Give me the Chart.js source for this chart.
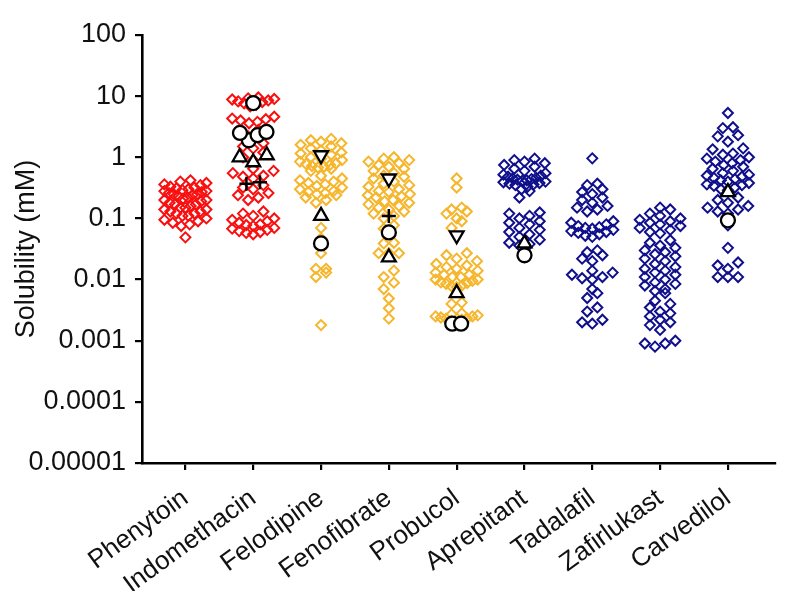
<!DOCTYPE html>
<html>
<head>
<meta charset="utf-8">
<script src="https://cdn.jsdelivr.net/npm/chart.js@4.4.0/dist/chart.umd.min.js"></script>
<style>
  html, body { margin: 0; padding: 0; background: #fff; }
  #wrap { width: 785px; height: 591px; }
</style>
</head>
<body>
<div id="wrap"><canvas id="solubilityChart"></canvas></div>
<script>
const drugs = ['Phenytoin', 'Indomethacin', 'Felodipine', 'Fenofibrate', 'Probucol',
    'Aprepitant', 'Tadalafil', 'Zafirlukast', 'Carvedilol'];

// solubility values (mM)
const phenytoin = [0.42, 0.40, 0.38, 0.36, 0.35, 0.33, 0.32, 0.31, 0.30, 0.29, 0.28, 0.28, 0.27, 0.26,
    0.25, 0.25, 0.24, 0.23, 0.22, 0.21, 0.20, 0.20, 0.19, 0.18, 0.17, 0.17, 0.16, 0.15, 0.15, 0.14,
    0.14, 0.13, 0.13, 0.12, 0.12, 0.11, 0.11, 0.10, 0.095, 0.09, 0.085, 0.08, 0.075, 0.049];
const indomethacin = [9.5, 9.2, 9.0, 8.8, 8.5, 8.2, 8.0, 7.6, 7.2, 6.8,
    4.6, 4.3, 4.2, 4.0, 3.8, 3.6, 2.8, 2.2, 1.7, 1.5, 1.4, 1.2, 1.0, 0.9,
    0.65, 0.6, 0.55, 0.5, 0.48, 0.45, 0.35, 0.32, 0.3, 0.26, 0.24, 0.22, 0.2,
    0.13, 0.12, 0.11, 0.1, 0.095, 0.09, 0.085, 0.08, 0.078, 0.075, 0.07, 0.068, 0.065, 0.062,
    0.06, 0.058, 0.055];
const felodipine = [2.0, 1.9, 1.8, 1.7, 1.6, 1.5, 1.4, 1.3, 1.2, 1.15, 1.1, 1.0, 0.95, 0.9, 0.85,
    0.8, 0.78, 0.75, 0.72, 0.7, 0.68, 0.65, 0.6,
    0.5, 0.45, 0.42, 0.4, 0.38, 0.36, 0.34, 0.32, 0.3, 0.28, 0.27, 0.26, 0.25, 0.24, 0.22, 0.2, 0.18,
    0.07, 0.047, 0.027, 0.015, 0.015, 0.013, 0.011, 0.0018];
const fenofibrate = [1.0, 0.95, 0.9, 0.85, 0.8, 0.75, 0.7, 0.65, 0.6, 0.55, 0.5, 0.48, 0.45,
    0.4, 0.37, 0.35, 0.33, 0.3, 0.28, 0.27, 0.25, 0.24, 0.23, 0.22, 0.2, 0.19, 0.18, 0.17, 0.16,
    0.15, 0.14, 0.13, 0.12, 0.11, 0.1,
    0.077, 0.068, 0.04, 0.039, 0.027, 0.027, 0.027, 0.014, 0.011, 0.0089, 0.007, 0.0049, 0.0034, 0.0023];
const probucol = [0.45, 0.32, 0.15, 0.14, 0.13, 0.12, 0.1, 0.09, 0.07,
    0.027, 0.025, 0.022, 0.02, 0.018, 0.017, 0.016, 0.015, 0.014, 0.013, 0.012, 0.012, 0.011,
    0.011, 0.01, 0.01, 0.0095, 0.009, 0.0088, 0.0085, 0.008, 0.0078, 0.0075,
    0.0042, 0.004, 0.0028, 0.0027, 0.0026, 0.0025, 0.0025, 0.0024, 0.0023, 0.0023, 0.0022, 0.0021, 0.002];
const aprepitant = [0.95, 0.9, 0.85, 0.8, 0.75, 0.7, 0.65, 0.6, 0.55, 0.52, 0.5, 0.48, 0.46, 0.45,
    0.44, 0.43, 0.42, 0.41, 0.4, 0.39, 0.38, 0.37, 0.36, 0.35, 0.33, 0.3, 0.28, 0.22,
    0.125, 0.12, 0.11, 0.1, 0.09, 0.085, 0.08, 0.07, 0.065, 0.06, 0.055, 0.05, 0.045, 0.04, 0.038, 0.036];
const tadalafil = [0.96, 0.37, 0.27, 0.35, 0.3, 0.25, 0.22, 0.2, 0.18, 0.16, 0.15, 0.14, 0.13,
    0.09, 0.085, 0.08, 0.075, 0.072, 0.07, 0.068, 0.065, 0.062, 0.06, 0.058, 0.055, 0.052, 0.05,
    0.03, 0.028, 0.025, 0.022, 0.02, 0.014, 0.013, 0.012, 0.011, 0.0105, 0.01,
    0.007, 0.006, 0.005, 0.0035, 0.003, 0.0022, 0.002, 0.0019];
const zafirlukast = [0.15, 0.14, 0.12, 0.11, 0.1, 0.095, 0.09, 0.085, 0.08, 0.075, 0.07, 0.065, 0.06, 0.057,
    0.044, 0.04, 0.036, 0.033, 0.03, 0.028, 0.026, 0.024, 0.022, 0.02, 0.018, 0.016,
    0.015, 0.014, 0.013, 0.012, 0.011, 0.01, 0.009, 0.0085, 0.008, 0.007, 0.0065, 0.006,
    0.0045, 0.004, 0.0035, 0.003, 0.0028, 0.0025, 0.0022, 0.002, 0.0018, 0.0015,
    0.001, 0.0009, 0.0009, 0.0008];
const carvedilol = [5.3, 3.1, 3.0, 2.3, 2.2, 1.8, 1.4, 1.35,
    1.15, 1.1, 1.0, 0.95, 0.9, 0.85, 0.8, 0.75, 0.7, 0.65, 0.6, 0.55, 0.52, 0.5, 0.48, 0.46,
    0.44, 0.42, 0.4, 0.38, 0.36, 0.35, 0.34, 0.32, 0.3, 0.29,
    0.22, 0.2, 0.18, 0.16, 0.15, 0.14, 0.13, 0.12,
    0.077, 0.033, 0.019, 0.017, 0.015, 0.011, 0.011, 0.011];

// black reference markers, one list per drug
const circleMarks = [[], [7.7, 2.6, 2.5, 2.3, 1.9], [0.039], [0.059], [0.0019, 0.0019], [0.025], [], [], [0.093]];
const triangleMarks = [[], [1.08, 1.0, 0.83], [0.11], [0.023], [0.006], [0.039], [], [], [0.27]];
const invTriangleMarks = [[], [], [1.08], [0.45], [0.053], [], [], [], []];
const plusMarks = [[], [0.39, 0.37], [], [0.11], [], [], [], [], []];

const yTickValues = [0.00001, 0.0001, 0.001, 0.01, 0.1, 1, 10, 100];
const yTickLabels = ['0.00001', '0.0001', '0.001', '0.01', '0.1', '1', '10', '100'];

const groupColors = ['#f81010', '#f81010', '#f6b62c', '#f6b62c', '#f6b62c',
    '#10108c', '#10108c', '#10108c', '#10108c'];
const allValues = [phenytoin, indomethacin, felodipine, fenofibrate, probucol,
    aprepitant, tadalafil, zafirlukast, carvedilol];

// spread points that share a value band sideways, lowest in the middle;
// rows keep an even spacing but never get wider than maxWidth
function swarm(values, cat, binLog, step, maxWidth) {
    const sorted = values.slice().sort((a, b) => a - b);
    const pts = [];
    let i = 0;
    while (i < sorted.length) {
        const start = Math.log10(sorted[i]);
        const bin = [];
        while (i < sorted.length && Math.log10(sorted[i]) - start < binLog) bin.push(sorted[i++]);
        const n = bin.length;
        const gap = n > 1 ? Math.min(step, maxWidth / (n - 1)) : 0;
        const slots = bin.map((v, k) => k - (n - 1) / 2);
        slots.sort((a, b) => Math.abs(a) - Math.abs(b) || a - b);
        bin.forEach((v, k) => pts.push({ x: cat + slots[k] * gap, y: v }));
    }
    return pts;
}

function markSet(lists, binLog, step) {
    let pts = [];
    lists.forEach((vals, cat) => { pts = pts.concat(swarm(vals, cat, binLog, step, 1)); });
    return pts;
}

const datasets = [
    { data: markSet(plusMarks, 0.15, 0.2), pointStyle: 'cross', radius: 7, borderWidth: 2.5,
      borderColor: '#000', backgroundColor: '#000' },
    { data: markSet(circleMarks, 0.15, 0.13), pointStyle: 'circle', radius: 7, borderWidth: 2.3,
      borderColor: '#000', backgroundColor: '#fff' },
    { data: markSet(triangleMarks, 0.15, 0.2), pointStyle: 'triangle', radius: 8, borderWidth: 2.3,
      borderColor: '#000', backgroundColor: '#fff' },
    { data: markSet(invTriangleMarks, 0.15, 0.2), pointStyle: 'triangle', rotation: 180, radius: 8,
      borderWidth: 2.3, borderColor: '#000', backgroundColor: '#fff' }
];
allValues.forEach((vals, cat) => {
    datasets.push({
        data: swarm(vals, cat, 0.13, 0.15, 0.62),
        pointStyle: 'rectRot',
        radius: 5,
        borderWidth: 2,
        borderColor: groupColors[cat],
        backgroundColor: 'rgba(255,255,255,0)'
    });
});

const tickFont = { family: '"Liberation Sans", Arial, sans-serif', size: 27 };
const labelFont = { family: '"Liberation Sans", Arial, sans-serif', size: 26 };

new Chart(document.getElementById('solubilityChart'), {
    type: 'scatter',
    data: { datasets: datasets },
    options: {
        responsive: true,
        maintainAspectRatio: false,
        animation: false,
        layout: { padding: { left: 0, right: 0, top: 35, bottom: 0 } },
        plugins: { legend: { display: false }, tooltip: { enabled: false } },
        elements: { point: { hoverRadius: 0 } },
        scales: {
            x: {
                type: 'linear',
                bounds: 'data',
                min: -0.64,
                max: 8.69,
                afterBuildTicks: scale => { scale.ticks = drugs.map((d, i) => ({ value: i })); },
                afterFit: scale => { scale.height = 128; scale.paddingLeft = 0; scale.paddingRight = 0; },
                border: { display: true, color: '#000', width: 2.6 },
                grid: { drawOnChartArea: false, drawTicks: true, tickLength: 7, color: '#000', lineWidth: 2.2 },
                ticks: {
                    autoSkip: false,
                    minRotation: 36,
                    maxRotation: 36,
                    padding: 13,
                    color: '#111',
                    font: labelFont,
                    callback: (v, i) => drugs[i]
                }
            },
            y: {
                type: 'logarithmic',
                bounds: 'data',
                min: 0.00001,
                max: 100,
                afterBuildTicks: scale => { scale.ticks = yTickValues.map(v => ({ value: v })); },
                afterFit: scale => { scale.width = 142; },
                border: { display: true, color: '#000', width: 2.6 },
                grid: { drawOnChartArea: false, drawTicks: true, tickLength: 7, color: '#000', lineWidth: 2.2 },
                ticks: {
                    padding: 9,
                    color: '#111',
                    font: tickFont,
                    callback: (v, i) => yTickLabels[i]
                },
                title: {
                    display: true,
                    text: 'Solubility (mM)',
                    color: '#111',
                    font: tickFont,
                    padding: { top: 10, bottom: 0 }
                }
            }
        }
    }
});
</script>
</body>
</html>
